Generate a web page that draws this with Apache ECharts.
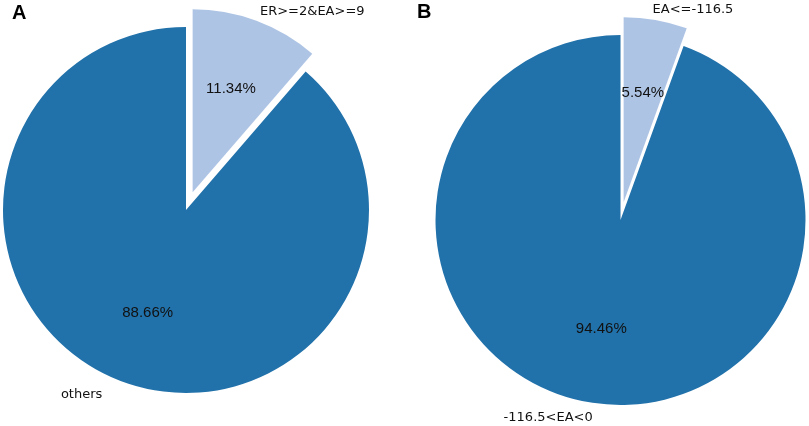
<!DOCTYPE html>
<html>
<head>
<meta charset="utf-8">
<script src="https://cdn.jsdelivr.net/npm/echarts@6/dist/echarts.min.js"></script>
<style>
  html, body { margin: 0; padding: 0; background: #fff; }
  #main { width: 809px; height: 426px; }
</style>
</head>
<body>
<div id="main"></div>
<script>
// data
var namesA = ['ER>=2&EA>=9', 'others'];
var valuesA = [11.34, 88.66];
var namesB = ['EA<=-116.5', '-116.5<EA<0'];
var valuesB = [5.54, 94.46];
var panelLabels = ['A', 'B'];

var colors = ['#aec4e5', '#2171aa'];
var nameFont = '"DejaVu Sans", sans-serif';
var pctFont = '"Liberation Sans", Arial, sans-serif';

// per-slice label line settings (label line hidden, only used to place names)
var nameLineA = [{len: 10, len2: 0, dist: 0}, {len: 14, len2: 10, dist: 5}];
var nameLineB = [{len: 11, len2: 0, dist: -5}, {len: 16, len2: 0, dist: -7}];

function nameData(names, values, lines) {
	return names.map(function(n, i) {
		return {
			name: n,
			value: values[i],
			selected: i === 0,
			itemStyle: { color: colors[i] },
			label: { distanceToLabelLine: lines[i].dist },
			labelLine: { show: false, length: lines[i].len, length2: lines[i].len2 }
		};
	});
}

function pctData(names, values) {
	return names.map(function(n, i) {
		return { name: n, value: values[i], selected: i === 0 };
	});
}

function pieSeries(center, r, offset, names, values, lines) {
	return [{
		type: 'pie',
		center: center,
		radius: [0, r],
		startAngle: 90,
		clockwise: true,
		selectedMode: 'single',
		selectedOffset: offset,
		avoidLabelOverlap: false,
		silent: true,
		animation: false,
		itemStyle: { borderWidth: 0 },
		label: {
			show: true,
			position: 'outside',
			formatter: '{b}',
			color: '#111',
			fontSize: 13,
			fontFamily: nameFont
		},
		data: nameData(names, values, lines)
	}, {
		// transparent ring only to carry the percent labels at 0.6 r
		type: 'pie',
		center: center,
		radius: [31, r],
		startAngle: 90,
		clockwise: true,
		selectedMode: 'single',
		selectedOffset: offset,
		avoidLabelOverlap: false,
		silent: true,
		animation: false,
		itemStyle: { color: 'rgba(0,0,0,0)', borderWidth: 0 },
		label: {
			show: true,
			position: 'inside',
			formatter: function(p) { return p.value.toFixed(2) + '%'; },
			color: '#111',
			fontSize: 15,
			fontFamily: pctFont
		},
		labelLine: { show: false },
		data: pctData(names, values)
	}];
}

var myChart = echarts.init(document.getElementById('main'));
var option = {
	backgroundColor: '#fff',
	graphic: [
		{ type: 'text', left: 12, top: 3, style: { text: panelLabels[0], font: 'bold 20px "Liberation Sans", Arial', fill: '#000' } },
		{ type: 'text', left: 417, top: 2, style: { text: panelLabels[1], font: 'bold 20px "Liberation Sans", Arial', fill: '#000' } }
	],
	series: pieSeries([186, 210], 183, 19, namesA, valuesA, nameLineA)
		.concat(pieSeries([620.5, 220], 185, 18, namesB, valuesB, nameLineB))
};
myChart.setOption(option);
</script>
</body>
</html>
